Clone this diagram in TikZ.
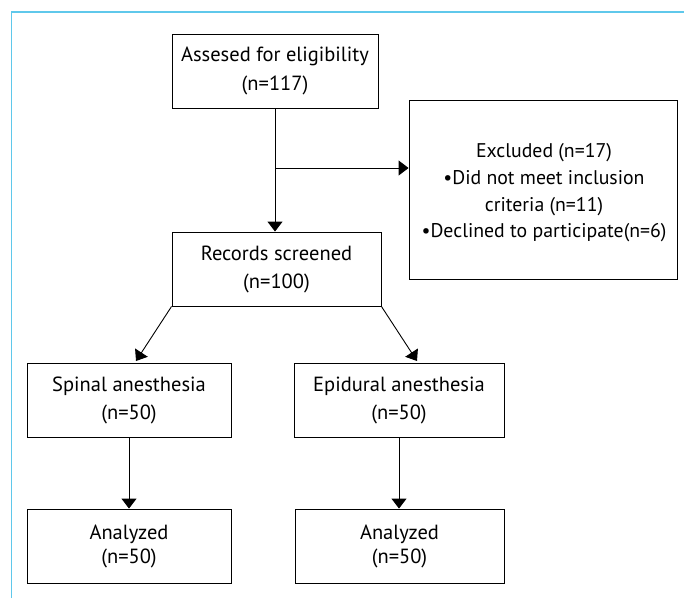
\documentclass[tikz,border=0pt]{standalone}
\usepackage{fontspec}
\setmainfont{PT Sans}
\usetikzlibrary{arrows.meta,calc}
\definecolor{frameblue}{RGB}{95,200,235}
\tikzset{
  box/.style={draw=black, line width=0.9pt, align=center, inner sep=0pt,
    font=\fontsize{20.5}{28}\selectfont},
  conn/.style={line width=0.9pt, -{Triangle[length=10pt,width=15pt]}},
}
\begin{document}
\begin{tikzpicture}[x=1pt,y=-1pt]
\useasboundingbox (0,0) rectangle (684,598);
\draw[frameblue, line width=1.5pt] (11.5,598) -- (11.5,12) -- (684,12);
\node[box, minimum width=206pt, minimum height=74pt, font=\fontsize{20.5}{29.5}\selectfont] (a) at (275,71) {Assesed for eligibility\\(n=117)};
\node[box, minimum width=209pt, minimum height=74pt] (b) at (276.5,269) {Records screened\\(n=100)};
\node[box, minimum width=268pt, minimum height=179pt] (e) at (543,189.5) {};
\node[align=center, inner sep=0pt, font=\fontsize{19.8}{26.7}\selectfont] (et) at (544,193) {Excluded (n=17)\\\textbullet Did not meet inclusion\\criteria (n=11)\\\textbullet Declined to participate(n=6)};
\node[box, minimum width=204pt, minimum height=74pt] (s) at (129,400) {Spinal anesthesia\\(n=50)};
\node[box, minimum width=210pt, minimum height=74pt] (p) at (399,400) {Epidural anesthesia\\(n=50)};
\node[box, minimum width=204pt, minimum height=74pt, font=\fontsize{20.5}{24}\selectfont] (s2) at (129,546) {Analyzed\\(n=50)};
\node[box, minimum width=209pt, minimum height=74pt, font=\fontsize{20.5}{24}\selectfont] (p2) at (399.5,546) {Analyzed\\(n=50)};
\coordinate (br) at (275,168);
\coordinate (t1) at (136,361);
\coordinate (t2) at (417,361);
\draw[conn] (a.south) -- (a.south |- b.north);
\draw[conn] (br) -- (br -| e.west);
\draw[conn] (b.south west) -- (t1);
\draw[conn] (b.south east) -- (t2);
\draw[conn] (s.south) -- (s2.north);
\draw[conn] (p.south) -- (p.south |- p2.north);
\end{tikzpicture}
\end{document}
